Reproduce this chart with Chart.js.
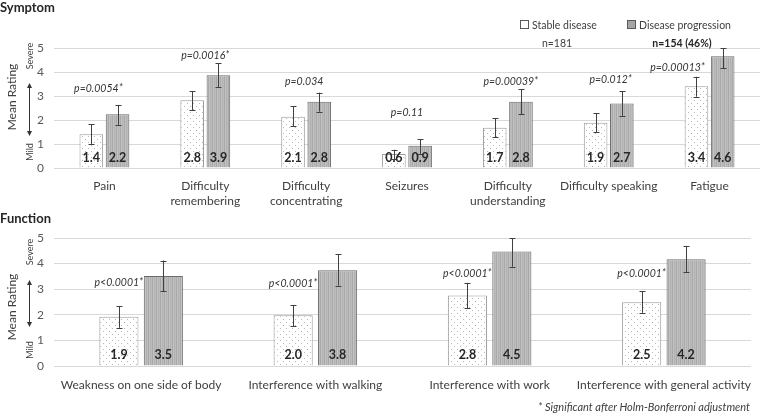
<!DOCTYPE html>
<html>
<head>
<meta charset="utf-8">
<script src="https://cdn.jsdelivr.net/npm/chart.js@4.4.1/dist/chart.umd.min.js"></script>
<style>
  body { margin: 0; width: 760px; height: 414px; position: relative; overflow: hidden; background: #fff; font-family: Lato, "Open Sans", sans-serif; color: #404040; }
  canvas { position: absolute; left: 0; }
  .txt { position: absolute; white-space: nowrap; line-height: 1; }
  .title { font-weight: bold; font-size: 13px; color: #262626; }
  .leg { font-size: 10.5px; color: #404040; }
  .mid { transform: translateX(-50%); }
  .box { display: inline-block; width: 7px; height: 7px; margin-right: 3px; vertical-align: 0px; }
</style>
</head>
<body>
<canvas id="function" width="760" height="204" style="top:210px"></canvas>
<canvas id="symptom" width="760" height="225" style="top:0"></canvas>

<div class="txt title" style="left:0;top:1px">Symptom</div>
<div class="txt title" style="left:0;top:212px">Function</div>
<div class="txt leg" style="left:520px;top:20px"><span class="box" style="border:1px solid #595959;background:#fff"></span>Stable disease</div>
<div class="txt leg" style="left:627px;top:20px"><span class="box" style="border:1px solid #595959;background:#a6a6a6"></span>Disease progression</div>
<div class="txt leg mid" style="left:557px;top:38px">n=181</div>
<div class="txt leg mid" style="left:682px;top:38px;font-weight:bold;color:#262626">n=154 (46%)</div>
<div class="txt leg" style="right:10px;top:401px;font-style:italic;font-size:11px">* Significant after Holm-Bonferroni adjustment</div>

<script>
// symptom panel
const symptomLabels = ['Pain', ['Difficulty', 'remembering'], ['Difficulty', 'concentrating'], 'Seizures', ['Difficulty', 'understanding'], 'Difficulty speaking', 'Fatigue']
const symptomStable = [1.41, 2.82, 2.14, 0.58, 1.68, 1.89, 3.41]
const symptomProg = [2.24, 3.86, 2.76, 0.93, 2.76, 2.69, 4.66]
const symptomStableText = ['1.4', '2.8', '2.1', '0.6', '1.7', '1.9', '3.4']
const symptomProgText = ['2.2', '3.9', '2.8', '0.9', '2.8', '2.7', '4.6']
const symptomStableErr = [[1.0, 1.83], [2.42, 3.2], [1.73, 2.58], [0.37, 0.76], [1.29, 2.07], [1.48, 2.28], [2.97, 3.8]]
const symptomProgErr = [[1.8, 2.63], [3.36, 4.36], [2.35, 3.14], [0.59, 1.2], [2.24, 3.28], [2.17, 3.2], [4.15, 4.98]]
const symptomP = ['p=0.0054*', 'p=0.0016*', 'p=0.034', 'p=0.11', 'p=0.00039*', 'p=0.012*', 'p=0.00013*']
const symptomPAt = [3.3, 4.7, 3.6, 2.3, 3.6, 3.7, 4.2]

// function panel
const functionLabels = ['Weakness on one side of body', 'Interference with walking', 'Interference with work', 'Interference with general activity']
const functionStable = [1.92, 1.98, 2.75, 2.49]
const functionProg = [3.52, 3.74, 4.47, 4.17]
const functionStableText = ['1.9', '2.0', '2.8', '2.5']
const functionProgText = ['3.5', '3.8', '4.5', '4.2']
const functionStableErr = [[1.49, 2.34], [1.56, 2.37], [2.25, 3.25], [2.08, 2.92]]
const functionProgErr = [[2.93, 4.12], [3.14, 4.37], [3.88, 5.0], [3.67, 4.69]]
const functionP = ['p<0.0001*', 'p<0.0001*', 'p<0.0001*', 'p<0.0001*']
const functionPAt = [3.27, 3.2, 3.6, 3.6]

const yTicks = [0, 1, 2, 3, 4, 5]
const FONT = 'Lato, "Open Sans", sans-serif'

function dotPattern() {
  const c = document.createElement('canvas')
  c.width = 6; c.height = 6
  const g = c.getContext('2d')
  g.fillStyle = '#fff'
  g.fillRect(0, 0, 6, 6)
  g.fillStyle = '#b8b8b8'
  g.fillRect(1, 1, 1, 1)
  g.fillRect(4, 4, 1, 1)
  return g.createPattern(c, 'repeat')
}

function stripePattern() {
  const c = document.createElement('canvas')
  c.width = 4; c.height = 1
  const g = c.getContext('2d')
  const cols = ['#a9a9a9', '#c2c2c2', '#b1b1b1', '#bcbcbc']
  cols.forEach((col, i) => { g.fillStyle = col; g.fillRect(i, 0, 1, 1) })
  return g.createPattern(c, 'repeat')
}

function arrowV(ctx, x, y1, y2) {
  ctx.save()
  ctx.strokeStyle = '#333'
  ctx.fillStyle = '#333'
  ctx.lineWidth = 1
  ctx.beginPath()
  ctx.moveTo(x, y1 + 3); ctx.lineTo(x, y2 - 3)
  ctx.stroke()
  ctx.beginPath()
  ctx.moveTo(x, y1); ctx.lineTo(x - 2.5, y1 + 5); ctx.lineTo(x + 2.5, y1 + 5); ctx.closePath(); ctx.fill()
  ctx.beginPath()
  ctx.moveTo(x, y2); ctx.lineTo(x - 2.5, y2 - 5); ctx.lineTo(x + 2.5, y2 - 5); ctx.closePath(); ctx.fill()
  ctx.restore()
}

function rotText(ctx, text, x, y, font, color) {
  ctx.save()
  ctx.translate(x, y)
  ctx.rotate(-Math.PI / 2)
  ctx.font = font
  ctx.fillStyle = color
  ctx.textAlign = 'center'
  ctx.textBaseline = 'middle'
  ctx.fillText(text, 0, 0)
  ctx.restore()
}

// error bars, value labels, p values, side axis labels
const extras = {
  id: 'extras',
  afterDatasetsDraw(chart, args, opts) {
    const ctx = chart.ctx
    const y = chart.scales.y
    const x = chart.scales.x
    ctx.save()
    // error bars
    ;[opts.errStable, opts.errProg].forEach((errs, di) => {
      const meta = chart.getDatasetMeta(di)
      meta.data.forEach((bar, i) => {
        const lo = y.getPixelForValue(errs[i][0])
        const hi = y.getPixelForValue(errs[i][1])
        const bx = Math.round(bar.x) + 0.5
        ctx.strokeStyle = '#404040'
        ctx.lineWidth = 1
        ctx.beginPath()
        ctx.moveTo(bx, lo); ctx.lineTo(bx, hi)
        ctx.moveTo(bx - 3, Math.round(lo) + 0.5); ctx.lineTo(bx + 3, Math.round(lo) + 0.5)
        ctx.moveTo(bx - 3, Math.round(hi) + 0.5); ctx.lineTo(bx + 3, Math.round(hi) + 0.5)
        ctx.stroke()
      })
    })
    // value labels at bar bottoms
    ctx.font = 'bold 12.5px ' + FONT
    ctx.fillStyle = '#262626'
    ctx.textAlign = 'center'
    ctx.textBaseline = 'middle'
    ;[opts.textStable, opts.textProg].forEach((texts, di) => {
      chart.getDatasetMeta(di).data.forEach((bar, i) => {
        ctx.fillText(texts[i], bar.x, y.getPixelForValue(0) - opts.valueLift)
      })
    })
    // p values
    ctx.font = 'italic 10.5px ' + FONT
    ctx.fillStyle = '#333'
    opts.p.forEach((txt, i) => {
      let px
      if (opts.pOnStable) px = chart.getDatasetMeta(0).data[i].x
      else px = x.getPixelForValue(i) + opts.pShift[i]
      ctx.fillText(txt, px, y.getPixelForValue(opts.pAt[i]))
    })
    // side labels
    rotText(ctx, 'Mean Rating', 12, opts.side.title, '12px ' + FONT, '#404040')
    rotText(ctx, 'Severe', 30, opts.side.severe, '9px ' + FONT, '#404040')
    rotText(ctx, 'Mild', 30, opts.side.mild, '9px ' + FONT, '#404040')
    arrowV(ctx, 29.5, opts.side.arrow[0], opts.side.arrow[1])
    ctx.restore()
  }
}

function makeChart(id, labels, stable, prog, cfg) {
  return new Chart(document.getElementById(id), {
    type: 'bar',
    data: {
      labels: labels,
      datasets: [
        { label: 'Stable disease', data: stable, backgroundColor: dotPattern(), borderColor: '#9a9a9a', borderWidth: 1, borderSkipped: 'bottom' },
        { label: 'Disease progression', data: prog, backgroundColor: stripePattern(), borderColor: '#6b6b6b', borderWidth: 1, borderSkipped: 'bottom' }
      ]
    },
    options: {
      responsive: false,
      animation: false,
      devicePixelRatio: 1,
      layout: { padding: cfg.padding },
      categoryPercentage: cfg.cat,
      barPercentage: cfg.bar,
      plugins: {
        legend: { display: false },
        tooltip: { enabled: false },
        extras: cfg.extras
      },
      scales: {
        x: {
          grid: { display: false },
          border: { display: false },
          ticks: { color: '#404040', font: { family: FONT, size: 12, lineHeight: 1.3 }, padding: cfg.xPad, maxRotation: 0, autoSkip: false },
          afterFit(scale) { scale.height = cfg.xHeight }
        },
        y: {
          min: 0, max: 5,
          afterBuildTicks(scale) { scale.ticks = yTicks.map(v => ({ value: v })) },
          grid: { color: '#d9d9d9', drawTicks: false },
          border: { display: false },
          ticks: { color: '#595959', font: { family: FONT, size: 12 }, padding: 10 },
          afterFit(scale) { scale.width = 54 }
        }
      }
    },
    plugins: [extras]
  })
}

makeChart('symptom', symptomLabels, symptomStable, symptomProg, {
  padding: { top: 48, right: 0, bottom: 0, left: 0 },
  cat: 0.52, bar: 0.9, xPad: 2, xHeight: 57,
  extras: {
    errStable: symptomStableErr, errProg: symptomProgErr,
    textStable: symptomStableText, textProg: symptomProgText,
    valueLift: 10,
    p: symptomP, pAt: symptomPAt, pOnStable: false, pShift: [-6, 0, -2, 0, 3, 2, -32],
    side: { title: 97, severe: 56, mild: 152, arrow: [83, 136] }
  }
})

makeChart('function', functionLabels, functionStable, functionProg, {
  padding: { top: 28, right: 9, bottom: 0, left: 0 },
  cat: 0.51, bar: 0.88, xPad: 3, xHeight: 48,
  extras: {
    errStable: functionStableErr, errProg: functionProgErr,
    textStable: functionStableText, textProg: functionProgText,
    valueLift: 11,
    p: functionP, pAt: functionPAt, pOnStable: true,
    side: { title: 97, severe: 42, mild: 140, arrow: [70, 117] }
  }
})
</script>
</body>
</html>
